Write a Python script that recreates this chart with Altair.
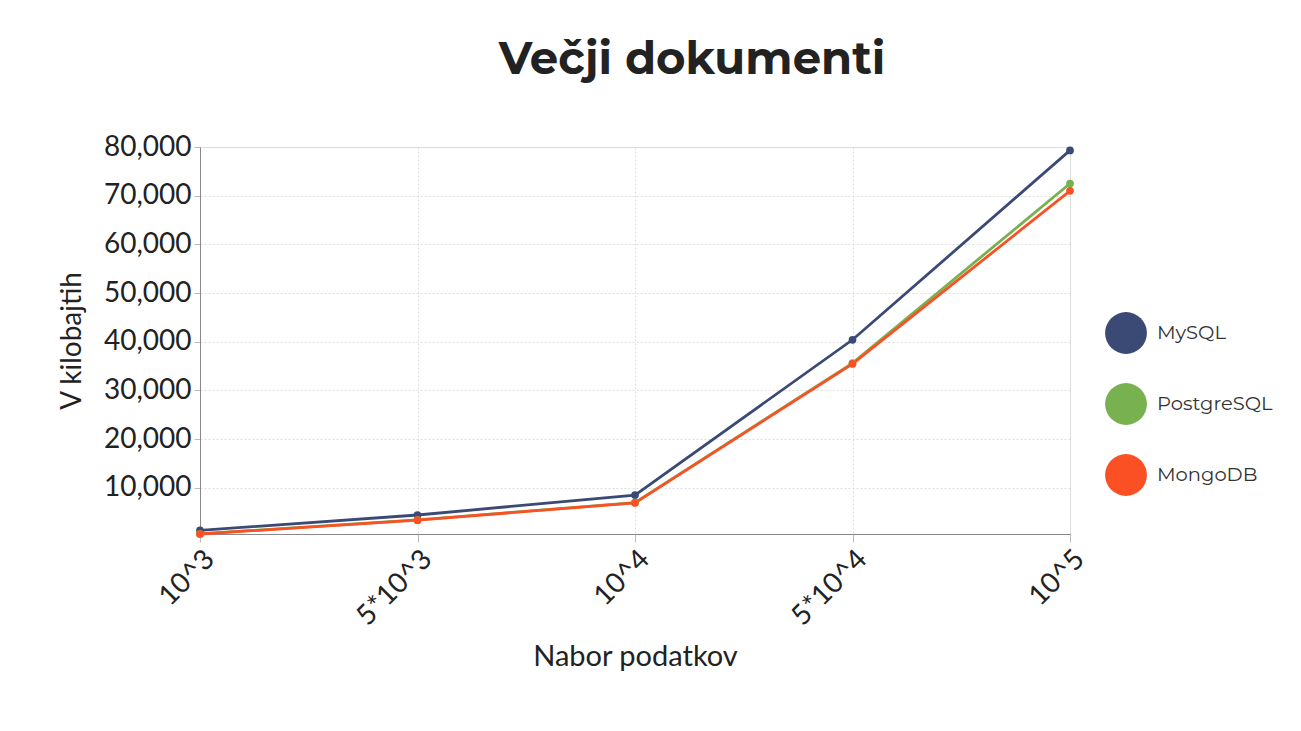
import altair as alt
import pandas as pd

categories = ["10^3", "5*10^3", "10^4", "5*10^4", "10^5"]
series = ["MySQL", "PostgreSQL", "MongoDB"]
mysql = [1250, 4400, 8500, 40400, 79300]
postgresql = [540, 3400, 6950, 35600, 72500]
mongodb = [500, 3350, 6900, 35450, 71000]
colors = ["#3b4a74", "#78b14f", "#fb5024"]

rows = []
for name, vals in zip(series, [mysql, postgresql, mongodb]):
    for c, v in zip(categories, vals):
        rows.append({"set": c, "size": v, "db": name})
df = pd.DataFrame(rows)

base = alt.Chart(df)

line = base.mark_line(strokeWidth=2.8, point=alt.OverlayMarkDef(size=60, filled=True, opacity=1)).encode(
    x=alt.X("set:N", sort=categories, scale=alt.Scale(type="point", padding=0),
            axis=alt.Axis(title="Nabor podatkov", labelAngle=-45, labelFont="Lato",
                          labelFontSize=28, labelColor="#222", titleFont="Lato",
                          titleFontSize=29, titleFontWeight="normal", titleColor="#222",
                          titlePadding=12, grid=True, gridDash=[2, 2], gridColor="#dddddd",
                          domainColor="#888", tickColor="#bbb", tickSize=8, labelPadding=3)),
    y=alt.Y("size:Q", scale=alt.Scale(domain=[500, 80000], nice=False, zero=False),
            axis=alt.Axis(title="V kilobajtih", values=[10000, 20000, 30000, 40000, 50000, 60000, 70000, 80000],
                          format=",.0f", labelFont="Lato", labelFontSize=28, labelColor="#222",
                          titleFont="Lato", titleFontSize=28, titleFontWeight="normal",
                          titleColor="#222", titlePadding=17, gridDash=[2, 2], gridColor="#dddddd",
                          domainColor="#888", tickColor="#bbb", tickSize=6, labelPadding=3)),
    color=alt.Color("db:N", sort=series, scale=alt.Scale(domain=series, range=colors),
                    legend=alt.Legend(title=None, orient="none", legendX=905, legendY=165,
                                      symbolType="circle", symbolSize=1750, symbolStrokeWidth=0,
                                      labelFont="Montserrat, Open Sans", labelFontSize=19.5,
                                      labelColor="#333", rowPadding=29, labelOffset=10)),
    order=alt.Order("db_order:Q"),
)

chart = line.transform_calculate(
    db_order="indexof(['MySQL','PostgreSQL','MongoDB'], datum.db)"
).properties(
    width=870,
    height=387,
    title=alt.TitleParams("Večji dokumenti", font="Montserrat, Open Sans", fontSize=45,
                          fontWeight="bold", color="#222", anchor="middle", dx=57, offset=50),
    autosize=alt.AutoSizeParams(type="none"),
    padding={"left": 192, "top": 139, "right": 220, "bottom": 180},
).configure_view(stroke=None).configure(background="white")

chart.save("out.html", embed_options={"renderer": "svg", "actions": False})
